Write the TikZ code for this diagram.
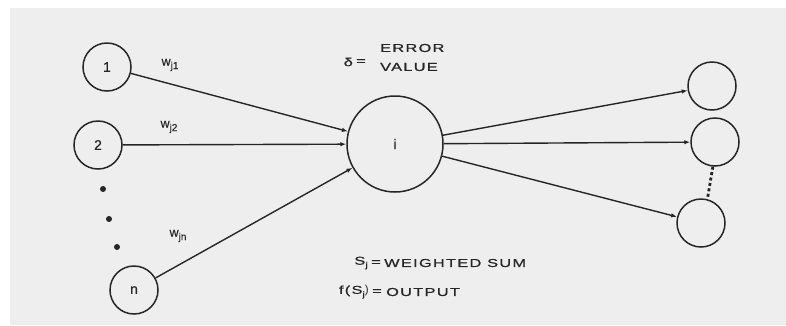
\documentclass[tikz,border=0pt]{standalone}
\usepackage{graphicx}
\usepackage{fontspec}
\setmainfont{Liberation Sans}
\newfontfamily\capsfont[LetterSpace=8,FakeBold=0.6]{Liberation Sans}
\newfontfamily\smallfont[FakeBold=0.4]{Liberation Sans}
\usetikzlibrary{arrows.meta}
\newcommand\wtxt[1]{\scalebox{1.42}[1]{\capsfont #1}}
\definecolor{ink}{HTML}{262626}
\definecolor{paper}{HTML}{EEEEEE}
\begin{document}
\begin{tikzpicture}[x=1pt,y=-1pt,
  unit/.style={circle,draw=ink,line width=1.5pt,inner sep=0pt,minimum size=#1,
    font=\smallfont\fontsize{14}{15}\selectfont,text=ink},
  link/.style={draw=ink,line width=1.4pt,-{Latex[length=6pt,width=4.5pt]}},
  lbl/.style={inner sep=0pt,text=ink,font=\fontsize{11.5}{12}\selectfont},
  wlbl/.style={inner sep=0pt,text=ink,font=\smallfont\fontsize{12.5}{13}\selectfont},
  dot/.style={circle,fill=ink,inner sep=0pt,minimum size=6pt}]
\useasboundingbox (0,0) rectangle (786,325);
\fill[paper] (10,8) rectangle (786,325);

% input units
\node[unit=48pt] (n1) at (107,67) {1};
\node[unit=48pt] (n2) at (98,145) {2};
\node[unit=48pt] (nn) at (134,290) {n};
\node[dot] (d1) at (103,189) {};
\node[dot] (d2) at (109,219) {};
\node[dot] (d3) at (117,247) {};

% central unit
\node[unit=96pt] (c) at (395,144) {i};

% output units
\node[unit=48pt] (o1) at (712,86) {};
\node[unit=48pt] (o2) at (715,142) {};
\node[unit=48pt] (o3) at (701,223) {};

% connectors
\draw[link] (n1) -- (c);
\draw[link] (n2) -- (c);
\draw[link] (nn) -- (c);
\draw[link] (c) -- (o1);
\draw[link] (c) -- (o2);
\draw[link] (c) -- (o3);
\draw[ink,line width=2.8pt,dash pattern=on 3pt off 2.5pt] (o2.265) -- (o3.75);

% weight labels
\node[wlbl] (w1) at (170,65) {w\raisebox{-3.5pt}{\fontsize{10}{11}\selectfont j1}};
\node[wlbl] (w2) at (169,127) {w\raisebox{-3.5pt}{\fontsize{10}{11}\selectfont j2}};
\node[wlbl] (wn) at (178,236) {w\raisebox{-3.5pt}{\fontsize{10}{11}\selectfont jn}};

% error value
\node[lbl,anchor=east] (dl) at (353,62) {\wtxt{δ}};
\node[lbl] (de) at (361,62) {\wtxt{=}};
\node[lbl,anchor=west] (er) at (380,48) {\wtxt{ERROR}};
\node[lbl,anchor=west] (va) at (380,67) {\wtxt{VALUE}};

% sums
\node[lbl,anchor=east] (sj) at (368,263) {\wtxt{S\raisebox{-3pt}{\fontsize{8}{9}\selectfont j}}};
\node[lbl] (se) at (376,263) {\wtxt{=}};
\node[lbl,anchor=west] (ws) at (384,263) {\wtxt{WEIGHTED SUM}};
\node[lbl,anchor=east] (fs) at (369,292) {\wtxt{f(S\raisebox{-3pt}{\fontsize{8}{9}\selectfont j}})};
\node[lbl] (fe) at (377,292) {\wtxt{=}};
\node[lbl,anchor=west] (ou) at (386,292) {\wtxt{OUTPUT}};
\end{tikzpicture}
\end{document}
